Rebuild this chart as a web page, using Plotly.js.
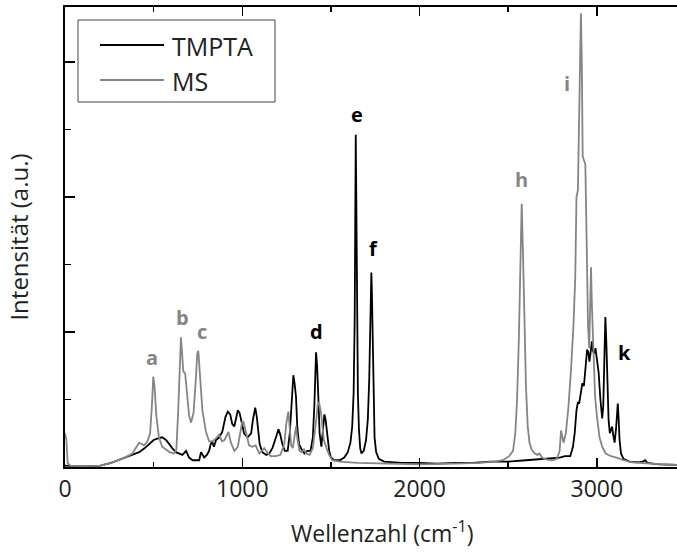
<!DOCTYPE html>
<html>
<head>
<meta charset="utf-8">
<script src="https://cdn.plot.ly/plotly-3.0.1.min.js"></script>
<style>html,body{margin:0;padding:0;background:#fff;}#chart{width:677px;height:553px;}</style>
</head>
<body>
<div id="chart"></div>
<script>
// TMPTA spectrum (black)
const tmptaWavenumber = [0,100,200,260,300,345,380,418,450,475,500,520,548,570,590,605,625,645,662,683,700,720,757,767,785,800,813,822,830,840,852,870,887,905,918,932,943,955,965,975,985,995,1010,1030,1050,1060,1073,1082,1090,1098,1113,1135,1152,1170,1190,1204,1214,1226,1240,1256,1268,1278,1288,1295,1303,1310,1320,1335,1350,1367,1385,1398,1407,1416,1422,1428,1436,1446,1455,1463,1470,1480,1490,1500,1520,1550,1575,1595,1610,1620,1628,1634,1638,1640,1643,1647,1652,1658,1665,1672,1685,1698,1708,1716,1722,1726,1728,1731,1735,1740,1746,1755,1770,1800,1900,2000,2100,2200,2300,2400,2500,2600,2700,2750,2790,2820,2850,2865,2875,2885,2893,2900,2908,2918,2927,2935,2945,2952,2958,2965,2972,2978,2985,2992,3000,3010,3020,3030,3036,3042,3048,3054,3060,3066,3073,3080,3086,3092,3100,3108,3114,3118,3122,3128,3136,3150,3185,3230,3260,3272,3285,3350,3452];
const tmptaIntensity = [0.01,0.005,0.01,0.03,0.05,0.075,0.09,0.11,0.14,0.17,0.2,0.21,0.22,0.2,0.16,0.14,0.11,0.1,0.09,0.12,0.07,0.05,0.05,0.11,0.07,0.09,0.12,0.17,0.19,0.15,0.2,0.22,0.26,0.37,0.41,0.39,0.32,0.3,0.36,0.42,0.4,0.34,0.25,0.22,0.25,0.35,0.44,0.37,0.25,0.17,0.11,0.09,0.1,0.14,0.22,0.28,0.24,0.17,0.12,0.12,0.25,0.45,0.68,0.62,0.52,0.3,0.17,0.13,0.1,0.12,0.12,0.22,0.47,0.85,0.75,0.55,0.25,0.15,0.28,0.39,0.35,0.24,0.12,0.07,0.05,0.05,0.07,0.11,0.18,0.3,0.55,1.1,1.9,2.46,2.0,1.2,0.55,0.28,0.14,0.1,0.12,0.2,0.35,0.65,1.05,1.35,1.44,1.3,0.9,0.45,0.22,0.11,0.06,0.04,0.03,0.03,0.025,0.03,0.03,0.04,0.04,0.05,0.06,0.07,0.07,0.08,0.08,0.15,0.25,0.42,0.48,0.47,0.55,0.62,0.6,0.72,0.87,0.85,0.78,0.85,0.93,0.86,0.84,0.88,0.8,0.7,0.5,0.36,0.45,0.75,1.11,0.9,0.55,0.35,0.25,0.28,0.3,0.24,0.18,0.28,0.42,0.47,0.38,0.2,0.1,0.06,0.04,0.035,0.04,0.05,0.03,0.02,0.015];

// MS spectrum (grey)
const msWavenumber = [0,8,15,30,100,200,260,300,345,380,405,418,432,446,465,480,490,498,505,515,530,548,570,590,615,628,638,648,654,660,667,678,690,700,711,725,738,746,752,760,775,795,813,830,850,870,885,900,915,922,936,955,975,990,1000,1008,1020,1038,1056,1075,1096,1110,1124,1140,1160,1190,1215,1237,1248,1260,1268,1276,1285,1295,1303,1312,1322,1335,1348,1360,1380,1398,1410,1418,1425,1433,1444,1452,1460,1475,1490,1508,1550,1650,1800,2000,2200,2340,2420,2470,2505,2527,2540,2550,2560,2568,2576,2584,2592,2600,2610,2620,2632,2650,2665,2677,2690,2720,2750,2775,2790,2798,2806,2812,2825,2840,2855,2868,2878,2885,2893,2900,2906,2910,2915,2920,2928,2935,2942,2950,2957,2962,2967,2972,2980,2990,3000,3015,3030,3050,3080,3110,3150,3200,3300,3452];
const msIntensity = [0.25,0.2,0.03,0.01,0.005,0.01,0.03,0.05,0.075,0.1,0.15,0.18,0.17,0.16,0.19,0.25,0.45,0.67,0.6,0.38,0.22,0.15,0.13,0.11,0.1,0.13,0.4,0.85,0.96,0.85,0.71,0.69,0.5,0.38,0.33,0.4,0.65,0.84,0.86,0.7,0.42,0.26,0.19,0.19,0.21,0.24,0.19,0.2,0.24,0.26,0.18,0.12,0.15,0.25,0.34,0.33,0.26,0.16,0.15,0.16,0.1,0.12,0.14,0.11,0.08,0.08,0.09,0.17,0.32,0.41,0.3,0.16,0.14,0.22,0.3,0.2,0.12,0.11,0.13,0.1,0.09,0.14,0.25,0.36,0.46,0.48,0.4,0.28,0.2,0.14,0.09,0.05,0.04,0.03,0.025,0.02,0.025,0.03,0.04,0.05,0.08,0.12,0.25,0.5,0.95,1.55,1.95,1.55,1.0,0.6,0.3,0.18,0.13,0.1,0.09,0.1,0.07,0.055,0.05,0.06,0.12,0.27,0.22,0.18,0.25,0.45,0.74,1.05,1.4,2.0,2.05,2.6,3.2,3.36,3.0,2.3,2.27,2.24,1.7,1.05,0.88,1.3,1.48,1.2,0.85,0.52,0.38,0.22,0.15,0.1,0.08,0.07,0.05,0.035,0.025,0.015];

// Peak labels
const peakLabels = ['a','b','c','d','e','f','h','i','k'];
const peakLabelX = [493,662,775,1417,1648,1738,2577,2831,3158];
const peakLabelY = [0.81,1.11,1.0,1.0,2.61,1.62,2.13,2.84,0.85];
const peakLabelSeries = ['MS','MS','MS','TMPTA','TMPTA','TMPTA','MS','MS','TMPTA'];

const seriesNames = ['TMPTA','MS'];
const xTickVals = [0,1000,2000,3000];
const xTickText = ['0','1000','2000','3000'];

const FONT = '"Open Sans", "Noto Sans", sans-serif';
const colors = {TMPTA: '#000000', MS: '#858585'};
const W = 677, H = 553, ML = 65, MT = 7, PW = 612, PH = 460;
const px = v => (v - ML) / PW;           // pixel x -> paper x
const py = v => 1 - (v - MT) / PH;       // pixel y -> paper y

const traces = [
  {x: tmptaWavenumber, y: tmptaIntensity, type: 'scatter', mode: 'lines', name: seriesNames[0],
   line: {color: colors.TMPTA, width: 1.8}, showlegend: false},
  {x: msWavenumber, y: msIntensity, type: 'scatter', mode: 'lines', name: seriesNames[1],
   line: {color: colors.MS, width: 1.8}, showlegend: false}
];

const annotations = peakLabels.map((t, i) => ({
  x: peakLabelX[i], y: peakLabelY[i], xref: 'x', yref: 'y', text: '<b>' + t + '</b>',
  showarrow: false, font: {family: FONT, size: 20, color: colors[peakLabelSeries[i]]},
  xanchor: 'center', yanchor: 'middle'
}));
annotations.push({
  x: px(382), y: py(532), xref: 'paper', yref: 'paper', text: 'Wellenzahl (cm<sup>-1</sup>)',
  showarrow: false, font: {family: FONT, size: 23, color: '#222'}, xanchor: 'center', yanchor: 'middle'
});

// legend (drawn as box + line samples + text)
const legendRowY = [45, 80];
const shapes = [
  {type: 'rect', xref: 'paper', yref: 'paper', x0: px(78), x1: px(275), y0: py(102), y1: py(20),
   line: {color: '#444', width: 1}, fillcolor: '#fff', layer: 'above'}
];
seriesNames.forEach((n, i) => {
  shapes.push({type: 'line', xref: 'paper', yref: 'paper', x0: px(100), x1: px(164),
    y0: py(legendRowY[i]), y1: py(legendRowY[i]), line: {color: colors[n], width: 1.8}, layer: 'above'});
  annotations.push({x: px(170), y: py(legendRowY[i] + 1), xref: 'paper', yref: 'paper', text: n,
    showarrow: false, xanchor: 'left', yanchor: 'middle',
    font: {family: FONT, size: 25, color: '#222'}});
});

const layout = {
  width: W, height: H,
  margin: {l: ML, r: W - ML - PW, t: MT, b: H - MT - PH, pad: 0},
  paper_bgcolor: '#ffffff', plot_bgcolor: '#ffffff',
  font: {family: FONT, color: '#222'},
  showlegend: false,
  xaxis: {
    range: [0, 3452], showgrid: false, zeroline: false,
    showline: true, linecolor: '#000', linewidth: 2, mirror: 'ticks',
    ticks: 'inside', ticklen: 9, tickwidth: 1.5, tickcolor: '#000',
    tickvals: xTickVals, ticktext: xTickText,
    tickfont: {family: FONT, size: 23, color: '#222'},
    minor: {dtick: 500, tick0: 0, ticks: 'inside', ticklen: 5, tickwidth: 1.5, tickcolor: '#000'}
  },
  yaxis: {
    range: [0, 3.407], showgrid: false, zeroline: false,
    showline: true, linecolor: '#000', linewidth: 2,
    ticks: 'inside', ticklen: 10, tickwidth: 1.5, tickcolor: '#000',
    dtick: 1, tick0: 0, showticklabels: false,
    minor: {dtick: 0.5, tick0: 0, ticks: 'inside', ticklen: 6, tickwidth: 1.5, tickcolor: '#000'},
    title: {text: 'Intensität (a.u.)', font: {family: FONT, size: 24, color: '#222'}, standoff: 28}
  },
  shapes: shapes,
  annotations: annotations
};

Plotly.newPlot('chart', traces, layout, {displayModeBar: false, staticPlot: true});
</script>
</body>
</html>
